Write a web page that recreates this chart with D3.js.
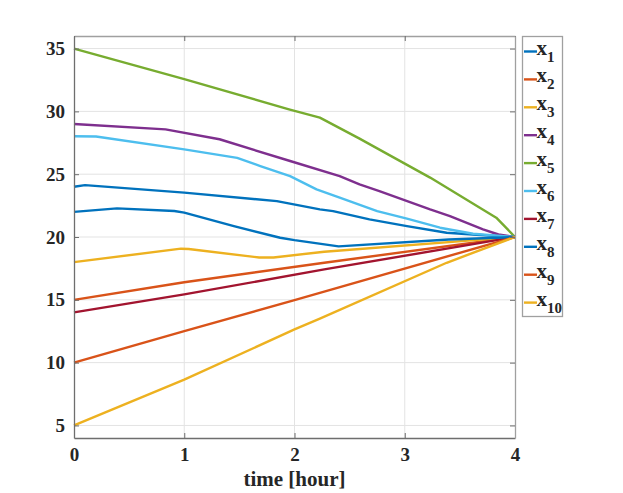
<!DOCTYPE html>
<html><head><meta charset="utf-8">
<script src="https://cdn.jsdelivr.net/npm/d3@7"></script>
<style>body{margin:0;background:#fff}svg{display:block}</style>
</head><body>
<svg id="c" width="623" height="493"></svg>
<script>
const xTicks = [0, 1, 2, 3, 4];
const yTicks = [5, 10, 15, 20, 25, 30, 35];
const seriesNames = ["1","2","3","4","5","6","7","8","9","10"];
const seriesColors = ["#0072BD","#D95319","#EDB120","#7E2F8E","#77AC30","#4DBEEE","#A2142F","#0072BD","#D95319","#EDB120"];
const x1 = [[0,24],[0.1,24.13],[1,23.53],[1.84,22.86],[2.23,22.2],[2.35,22.06],[2.68,21.4],[3.02,20.87],[3.38,20.34],[3.65,20.18],[4,20]];
const x2 = [[0,15],[1,16.4],[2.27,17.95],[4,20]];
const x3 = [[0,18],[0.97,19.07],[1.04,19.04],[1.68,18.37],[1.81,18.37],[2.27,18.83],[4,20]];
const x4 = [[0,29],[0.83,28.57],[1.32,27.78],[1.96,26.05],[2.41,24.85],[2.59,24.19],[2.77,23.66],[3.23,22.2],[3.41,21.67],[3.71,20.6],[3.85,20.2],[4,20]];
const x5 = [[0,35],[1,32.56],[1.95,30.16],[2.23,29.5],[2.59,27.83],[3.23,24.73],[3.83,21.54],[4,20]];
const x6 = [[0,28.02],[0.2,28.0],[1,26.98],[1.48,26.3],[1.69,25.65],[1.96,24.85],[2.2,23.79],[2.41,23.13],[2.75,22.06],[3.02,21.46],[3.32,20.74],[3.62,20.26],[4,20]];
const x7 = [[0,14],[1,15.43],[2.27,17.42],[4,20]];
const x8 = [[0,22],[0.39,22.28],[0.91,22.07],[1.0,21.94],[1.45,20.87],[1.87,19.94],[2.0,19.75],[2.4,19.25],[3.4,19.8],[4,20]];
const x9 = [[0,10],[1,12.5],[2,14.97],[4,20]];
const x10 = [[0,5],[1,8.65],[2,12.64],[2.23,13.5],[3.38,17.95],[4,20]];
const allSeries = [x1,x2,x3,x4,x5,x6,x7,x8,x9,x10];

const svg = d3.select("#c");
const L = 74, T = 36, W = 441, H = 402;
const x = d3.scaleLinear().domain([0,4]).range([L, L+W]);
const y = d3.scaleLinear().domain([4,36]).range([T+H, T]);
const font = "'Liberation Serif','Times New Roman',serif";

// grid
const g = svg.append("g");
g.selectAll("line.gx").data(xTicks.slice(1,-1)).join("line")
  .attr("x1", d=>x(d)).attr("x2", d=>x(d)).attr("y1", T).attr("y2", T+H)
  .attr("stroke", "#e3e3e3").attr("stroke-width", 1);
g.selectAll("line.gy").data(yTicks).join("line")
  .attr("y1", d=>y(d)).attr("y2", d=>y(d)).attr("x1", L).attr("x2", L+W)
  .attr("stroke", "#e3e3e3").attr("stroke-width", 1);

// lines
const line = d3.line().x(d=>x(d[0])).y(d=>y(d[1]));
svg.append("g").selectAll("path").data(allSeries).join("path")
  .attr("d", line).attr("fill","none")
  .attr("stroke", (d,i)=>seriesColors[i]).attr("stroke-width", 2.4)
  .attr("stroke-linejoin","round");

// axes (inward ticks)
const tl = 5;
const axB = svg.append("g").attr("transform",`translate(0,${T+H})`)
  .call(d3.axisBottom(x).tickValues(xTicks).tickSizeInner(-tl).tickSizeOuter(0).tickPadding(10).tickFormat(d3.format("d")));
const axT = svg.append("g").attr("transform",`translate(0,${T})`)
  .call(d3.axisTop(x).tickValues(xTicks).tickSizeInner(-tl).tickSizeOuter(0).tickFormat(""));
const axL = svg.append("g").attr("transform",`translate(${L},0)`)
  .call(d3.axisLeft(y).tickValues(yTicks).tickSizeInner(-tl).tickSizeOuter(0).tickPadding(9).tickFormat(d3.format("d")));
const axR = svg.append("g").attr("transform",`translate(${L+W},0)`)
  .call(d3.axisRight(y).tickValues(yTicks).tickSizeInner(-tl).tickSizeOuter(0).tickFormat(""));
[axB, axL].forEach(a=>{
  a.selectAll("path.domain").attr("stroke","#6e6e6e").attr("stroke-width",1.3);
  a.selectAll(".tick line").attr("stroke","#6e6e6e");
  a.selectAll("text").attr("font-family",font).attr("font-weight","bold").attr("font-size","19px").attr("fill","#262626");
});
[axT, axR].forEach(a=>{
  a.selectAll("path.domain").attr("stroke","#a0a0a0").attr("stroke-width",1.3);
  a.selectAll(".tick line").attr("stroke","#6e6e6e");
});

// x label
svg.append("text").attr("x", L+W/2).attr("y", 485.5).attr("text-anchor","middle")
  .attr("font-family",font).attr("font-weight","bold").attr("font-size","21px").attr("fill","#262626")
  .text("time [hour]");

// legend
const lg = svg.append("g");
lg.append("rect").attr("x",522.5).attr("y",36.5).attr("width",40).attr("height",280)
  .attr("fill","#fff").attr("stroke","#a0a0a0").attr("stroke-width",1.3);
seriesNames.forEach((n,i)=>{
  const yy = 51.5 + i*27.9;
  lg.append("line").attr("x1",524).attr("x2",537).attr("y1",yy).attr("y2",yy)
    .attr("stroke",seriesColors[i]).attr("stroke-width",2.4);
  const t = lg.append("text").attr("x",536.5).attr("y",yy+3)
    .attr("font-family",font).attr("font-weight","bold").attr("font-size","21px").attr("fill","#262626");
  t.append("tspan").text("x");
  t.append("tspan").attr("dy",7).attr("font-size","15px").text(n);
});
</script>
</body></html>
